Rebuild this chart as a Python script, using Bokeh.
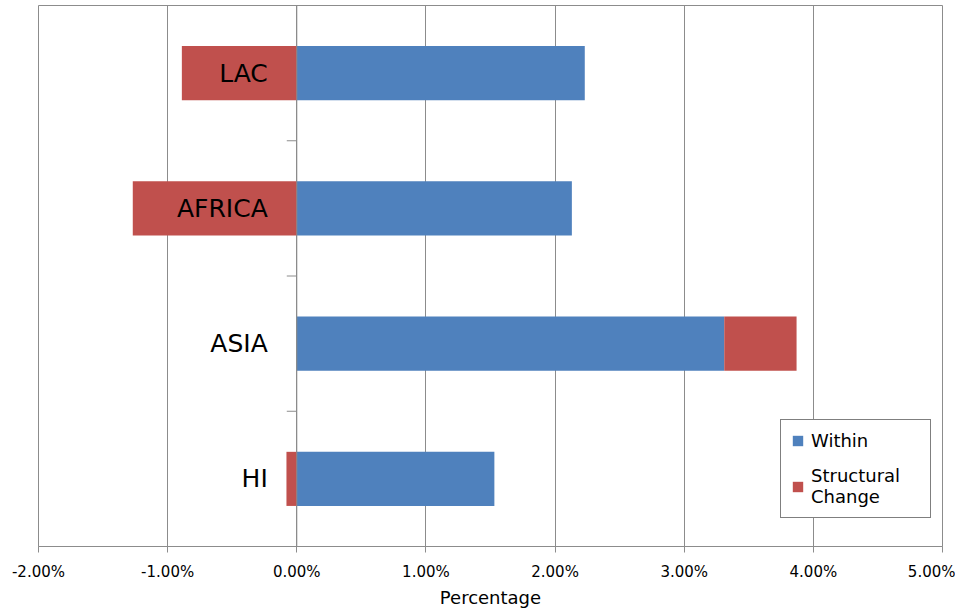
from bokeh.plotting import figure
from bokeh.models import (Range1d, FixedTicker, NumeralTickFormatter, Span,
                          ColumnDataSource, Legend, LegendItem)
from bokeh.core.properties import value
from bokeh.embed import file_html
from bokeh.resources import INLINE

# ---- data ----
categories = ["HI", "ASIA", "AFRICA", "LAC"]          # bottom to top
within = [0.0153, 0.0331, 0.0213, 0.0223]
structural = [-0.0008, 0.0056, -0.0127, -0.0089]
x_ticks = [-0.02, -0.01, 0.0, 0.01, 0.02, 0.03, 0.04, 0.05]

BLUE = "#4F81BD"
RED = "#C0504D"
GRID = "#8c8c8c"
FONT = "DejaVu Sans"

ypos = [i + 0.5 for i in range(len(categories))]
s_left = [s if s < 0 else w for w, s in zip(within, structural)]
s_right = [0 if s < 0 else w + s for w, s in zip(within, structural)]

src = ColumnDataSource(dict(y=ypos, cat=categories, within=within,
                            zero=[0] * len(categories),
                            s_left=s_left, s_right=s_right))

p = figure(width=955, height=613, output_backend="svg", toolbar_location=None,
           x_range=Range1d(x_ticks[0], x_ticks[-1]),
           y_range=Range1d(0, len(categories)),
           y_axis_location=None,
           min_border_left=38, min_border_right=13, min_border_top=5,
           min_border_bottom=67)

p.background_fill_color = "white"
p.border_fill_color = "white"
p.outline_line_color = GRID
p.outline_line_width = 1

# grid
p.xgrid.ticker = FixedTicker(ticks=x_ticks)
p.xgrid.grid_line_color = GRID
p.xgrid.grid_line_width = 1
p.ygrid.grid_line_color = None

# x axis
ax = p.xaxis[0]
ax.ticker = FixedTicker(ticks=x_ticks)
ax.formatter = NumeralTickFormatter(format="0.00%")
ax.axis_line_color = GRID
ax.major_tick_line_color = GRID
ax.major_tick_out = 6
ax.major_tick_in = 0
ax.minor_tick_line_color = None
ax.major_label_text_font = FONT
ax.major_label_text_font_size = "15px"
ax.major_label_text_color = "black"
ax.major_label_standoff = 10
ax.axis_label = "Percentage"
ax.axis_label_text_font = FONT
ax.axis_label_text_font_size = "18px"
ax.axis_label_text_font_style = "normal"
ax.axis_label_text_color = "black"
ax.axis_label_standoff = 3

# bars
r_within = p.hbar(y="y", left="zero", right="within", height=0.4,
                  fill_color=BLUE, line_color=None, source=src)
r_struct = p.hbar(y="y", left="s_left", right="s_right", height=0.4,
                  fill_color=RED, line_color=None, source=src)

# vertical category axis at zero
p.add_layout(Span(location=0, dimension="height", line_color=GRID, line_width=1))
bounds = list(range(1, len(categories)))
tick_len = (x_ticks[-1] - x_ticks[0]) / 904 * 10
p.segment(x0=[0] * len(bounds), x1=[-tick_len] * len(bounds), y0=bounds, y1=bounds,
          line_color=GRID, line_width=1)

# category labels
p.text(x="zero", y="y", text="cat", source=src, x_offset=-29,
       text_align="right", text_baseline="middle",
       text_font=value(FONT), text_font_size="25px", text_color="black")

legend = Legend(items=[LegendItem(label="Within", renderers=[r_within]),
                       LegendItem(label="Structural\nChange", renderers=[r_struct])],
                location=(742, 28))
legend.label_text_font = FONT
legend.label_text_font_size = "18px"
legend.label_text_color = "black"
legend.label_text_line_height = 1.45
legend.label_width = 109
legend.glyph_width = 13
legend.glyph_height = 13
legend.label_standoff = 7
legend.spacing = 14
legend.padding = 10
legend.margin = 0
legend.border_line_color = "black"
legend.border_line_width = 1
legend.background_fill_alpha = 1
p.add_layout(legend)

open("out.html", "w").write(file_html(p, INLINE))
